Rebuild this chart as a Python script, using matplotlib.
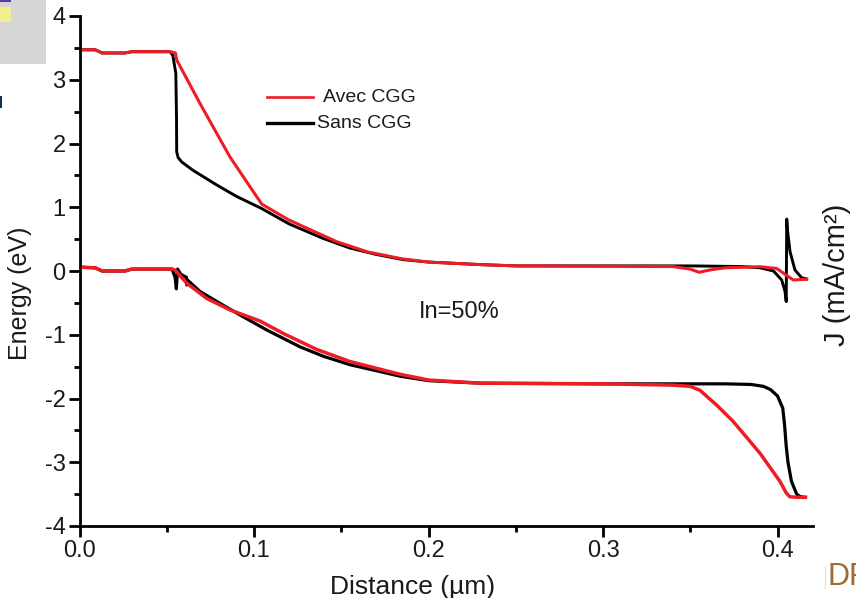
import matplotlib
matplotlib.use("Agg")
import matplotlib.pyplot as plt
from matplotlib.lines import Line2D
from matplotlib.patches import Rectangle

plt.rcParams['font.family'] = ['Liberation Sans', 'DejaVu Sans']
plt.rcParams['axes.unicode_minus'] = False

W = 856
H = 598

# conduction band
black_up_x = [0.0, 0.009, 0.013, 0.026, 0.03, 0.052, 0.0535, 0.0552, 0.0556, 0.0557, 0.0565, 0.0586, 0.065, 0.0786,
              0.09, 0.1044, 0.12, 0.1397, 0.155, 0.17, 0.185, 0.20, 0.215, 0.23, 0.25, 0.35, 0.38, 0.39, 0.3977, 0.4024,
              0.4043, 0.405, 0.4053, 0.4058, 0.4072, 0.41, 0.4138, 0.4167]
black_up_y = [3.47, 3.47, 3.42, 3.42, 3.44, 3.44, 3.38, 3.1, 2.4, 1.87, 1.78, 1.71, 1.58, 1.35,
              1.17, 0.98, 0.74, 0.51, 0.36, 0.26, 0.18, 0.14, 0.12, 0.1, 0.08, 0.08, 0.07, 0.05, 0.0, -0.14,
              -0.32, -0.48, 0.815, 0.62, 0.3, 0.016, -0.105, -0.125]
red_up_x = [0.0, 0.009, 0.013, 0.026, 0.03, 0.052, 0.055, 0.0557, 0.069, 0.0862, 0.1044, 0.12, 0.1474, 0.165,
            0.185, 0.20, 0.215, 0.23, 0.25, 0.34, 0.35, 0.355, 0.362, 0.37, 0.39, 0.3995, 0.4053, 0.409, 0.4167]
red_up_y = [3.47, 3.47, 3.42, 3.42, 3.44, 3.44, 3.42, 3.31, 2.63, 1.79, 1.05, 0.8, 0.46, 0.3,
            0.19, 0.14, 0.12, 0.1, 0.08, 0.07, 0.03, -0.02, 0.02, 0.05, 0.067, 0.04, -0.07, -0.14, -0.13]

# valence band
black_down_x = [0.0, 0.009, 0.013, 0.026, 0.03, 0.053, 0.0548, 0.0555, 0.0562, 0.058, 0.0613, 0.0615, 0.0618, 0.069,
                0.08, 0.092, 0.1073, 0.1264, 0.14, 0.155, 0.1837, 0.20, 0.23, 0.30, 0.37, 0.385, 0.392, 0.396, 0.40,
                0.403, 0.404, 0.405, 0.406, 0.408, 0.411, 0.413, 0.416]
black_down_y = [0.06, 0.05, 0.0, 0.0, 0.03, 0.03, -0.1, -0.28, 0.03, -0.05, -0.1, -0.22, -0.14, -0.32,
                -0.5, -0.69, -0.925, -1.19, -1.34, -1.47, -1.65, -1.72, -1.76, -1.77, -1.77, -1.78, -1.81, -1.86, -1.96,
                -2.15, -2.4, -2.75, -3.0, -3.3, -3.5, -3.54, -3.55]
red_down_x = [0.0, 0.009, 0.013, 0.026, 0.03, 0.053, 0.0547, 0.0614, 0.0729, 0.0862, 0.1034, 0.1168, 0.1359, 0.155,
              0.1837, 0.20, 0.23, 0.30, 0.34, 0.35, 0.3555, 0.365, 0.3746, 0.39, 0.4014, 0.405, 0.407, 0.411, 0.416]
red_down_y = [0.06, 0.05, 0.0, 0.0, 0.03, 0.03, 0.016, -0.19, -0.43, -0.61, -0.784, -0.98, -1.23, -1.42,
              -1.62, -1.71, -1.76, -1.77, -1.79, -1.81, -1.87, -2.1, -2.36, -2.86, -3.3, -3.48, -3.54, -3.55, -3.55]

x_ticks = [0.0, 0.1, 0.2, 0.3, 0.4]
x_minor = [0.05, 0.15, 0.25, 0.35]
y_ticks = [-4, -3, -2, -1, 0, 1, 2, 3, 4]
y_minor = [-3.5, -2.5, -1.5, -0.5, 0.5, 1.5, 2.5, 3.5]

fig = plt.figure(figsize=(W / 100, H / 100), dpi=100)
ax = fig.add_axes([79.5 / W, 1 - 526 / H, (813 - 79.5) / W, (526 - 16) / H])
ax.patch.set_alpha(0)

ax.plot(black_up_x, black_up_y, color='black', lw=2.1, solid_joinstyle='round')
ax.plot(black_down_x, black_down_y, color='black', lw=2.3, solid_joinstyle='round')
ax.plot(red_up_x, red_up_y, color='#ee1c25', lw=2.2, solid_joinstyle='round')
ax.plot(red_down_x, red_down_y, color='#ee1c25', lw=2.5, solid_joinstyle='round')

ax.set_xlim(0, (813 - 79.5) / 1745)
ax.set_ylim(-4, 4)
ax.set_xticks(x_ticks)
ax.set_xticks(x_minor, minor=True)
ax.set_yticks(y_ticks)
ax.set_yticks(y_minor, minor=True)
ax.set_xticklabels(['0.0', '0.1', '0.2', '0.3', '0.4'])
ax.tick_params(which='major', length=8, width=2, labelsize=17, pad=2, color='black', labelcolor='#1a1a1a')
ax.tick_params(which='minor', length=4, width=2)

ax.spines['top'].set_visible(False)
ax.spines['right'].set_visible(False)
ax.spines['left'].set_linewidth(2)
ax.spines['bottom'].set_linewidth(2)


def px(x, y):
    return x / W, 1 - y / H


# legend is hand placed in the original
fig.add_artist(Line2D([267 / W, 313 / W], [1 - 96.7 / H, 1 - 96.7 / H], color='#ee1c25', lw=1.9))
fig.add_artist(Line2D([267 / W, 313 / W], [1 - 123.3 / H, 1 - 123.3 / H], color='black', lw=2.4))
fig.text(*px(323, 97), 'Avec CGG', fontsize=14, color='#1a1a1a', ha='left', va='center')
fig.text(*px(317, 124), 'Sans CGG', fontsize=14, color='#1a1a1a', ha='left', va='center')
fig.text(*px(459, 312), 'In=50%', fontsize=17, color='#1a1a1a', ha='center', va='center')

fig.text(*px(413, 587), 'Distance (µm)', fontsize=19, color='#1a1a1a', ha='center', va='center')
fig.text(*px(20, 293), 'Energy (eV)', fontsize=18, color='#1a1a1a', rotation=90, ha='center', va='center')
fig.text(*px(837, 275), 'J (mA/cm²)', fontsize=21, color='#1a1a1a', rotation=90, ha='center', va='center')

# leftovers of the slide around the chart
fig.add_artist(Rectangle(px(0, 64), 46 / W, 64 / H, color='#d6d6d6', lw=0))
fig.add_artist(Rectangle(px(0, 22), 11 / W, 15 / H, color='#f3ee8a', lw=0))
fig.add_artist(Rectangle(px(0, 2), 11 / W, 2 / H, color='#5a3f9c', lw=0))
fig.add_artist(Rectangle(px(0, 108), 1.5 / W, 12 / H, color='#12305c', lw=0))
fig.add_artist(Line2D([825 / W, 825 / W], [1 - 566 / H, 1 - 588 / H], color='#e6dccb', lw=0.8))
fig.text(*px(828, 577), 'DF', fontsize=22, color='#9c6a32', ha='left', va='center')

fig.savefig('out.png', dpi=100)
